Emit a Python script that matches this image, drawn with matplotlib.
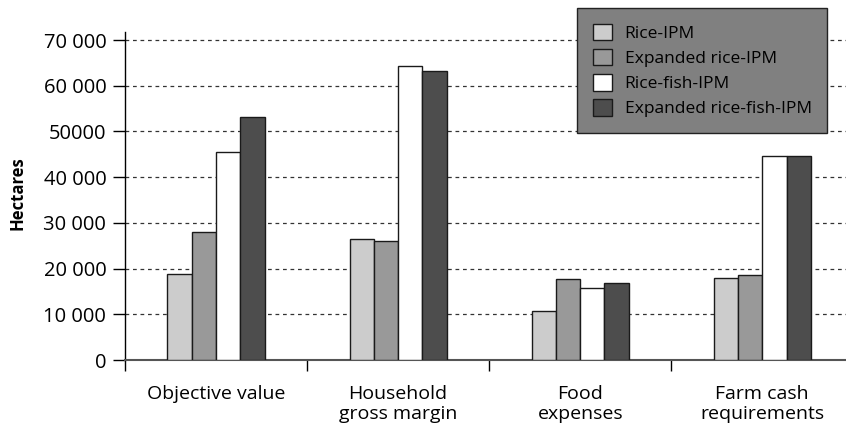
import matplotlib
matplotlib.use("Agg")
import matplotlib.pyplot as plt
import numpy as np

plt.rcParams['font.family'] = ['Open Sans', 'DejaVu Sans']

categories = ["Objective value", "Household\ngross margin", "Food\nexpenses", "Farm cash\nrequirements"]
series     = ["Rice-IPM", "Expanded rice-IPM", "Rice-fish-IPM", "Expanded rice-fish-IPM"]
values = {
    "Rice-IPM":               [18800, 26500, 10800, 18000],
    "Expanded rice-IPM":      [27900, 26000, 17700, 18500],
    "Rice-fish-IPM":          [45400, 64400, 15800, 44700],
    "Expanded rice-fish-IPM": [53200, 63200, 16800, 44700],
}
colors = ["#cccccc", "#999999", "#ffffff", "#4d4d4d"]
yticks      = [0, 10000, 20000, 30000, 40000, 50000, 60000, 70000]
ytick_labels = ["0", "10 000", "20 000", "30 000", "40 000", "50000", "60 000", "70 000"]

fig = plt.figure(figsize=(8.46, 4.25), dpi=100)
ax = fig.add_axes([0.1478, 0.1529, 0.8522, 0.7718])

x = np.arange(len(categories))
w = 0.1335
for i, (name, col) in enumerate(zip(series, colors)):
    ax.bar(x + (i - 1.5) * w, values[name], w, color=col, edgecolor="#1a1a1a",
           linewidth=1.0, label=name, zorder=3)

ax.set_xlim(-0.5, 3.46)
ax.set_ylim(0, 71750)
ax.set_yticks(yticks)
ax.set_yticklabels(ytick_labels, fontsize=14.5)
ax.tick_params(axis="y", length=8.5, width=1, pad=5, color="black")

ax.set_xticks(x)
ax.set_xticklabels(categories, fontsize=14, linespacing=1.15)
ax.tick_params(axis="x", which="major", length=0, pad=18)
ax.set_xticks(np.arange(len(categories)) - 0.5, minor=True)
ax.tick_params(axis="x", which="minor", length=8, width=1, color="black")

for y in yticks[1:]:
    ax.axhline(y, color="#333333", linewidth=0.9, linestyle=(0, (3, 3)), zorder=1)

for s in ["top", "right"]:
    ax.spines[s].set_visible(False)
ax.spines["left"].set_linewidth(1.0)
ax.spines["bottom"].set_color("#555555")
ax.spines["bottom"].set_linewidth(1.5)

ax.set_ylabel("Hectares", fontsize=12, fontweight="bold")
ax.yaxis.set_label_coords(-0.137, 0.51)

leg = ax.legend(loc="upper left", bbox_to_anchor=(577 / 846, 1 - 8 / 425),
                bbox_transform=fig.transFigure, fontsize=12.5, frameon=True,
                fancybox=False, borderpad=0.9, handlelength=1.1, handleheight=1.1,
                handletextpad=0.75, labelspacing=0.4, borderaxespad=0)
frame = leg.get_frame()
frame.set_facecolor("#808080")
frame.set_edgecolor("#222222")
frame.set_alpha(1)
frame.set_linewidth(1.0)
leg.set_zorder(5)

fig.savefig("out.png", dpi=100)
